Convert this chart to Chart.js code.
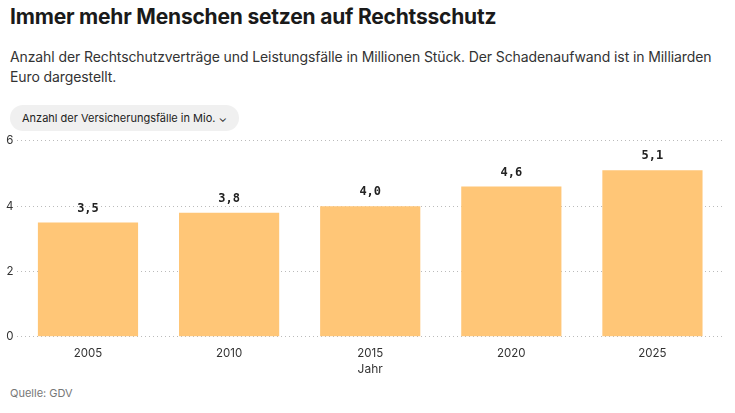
<!DOCTYPE html>
<html><head><meta charset="utf-8">
<script src="https://cdn.jsdelivr.net/npm/chart.js@4"></script>
<style>
body{margin:0;background:#fff;font-family:Inter,"Noto Sans",sans-serif;color:#1a1a1a;width:735px;height:413px;overflow:hidden;position:relative}
h1{position:absolute;left:10px;top:4px;margin:0;font-size:21px;font-weight:700;letter-spacing:-0.2px}
.sub{position:absolute;left:10px;top:47px;width:722px;font-size:14px;line-height:20px;color:#333;letter-spacing:-0.1px}
.pill{position:absolute;left:10px;top:105px;height:26px;padding:0 12px;border-radius:13px;background:#f0f0f0;font-size:11px;line-height:26px;color:#222}
#wrap{position:absolute;left:0;top:130px;width:735px;height:247px}
.src{position:absolute;left:10px;top:386px;font-size:11px;color:#777}
</style></head><body>
<h1>Immer mehr Menschen setzen auf Rechtsschutz</h1>
<div class="sub">Anzahl der Rechtschutzverträge und Leistungsfälle in Millionen Stück. Der Schadenaufwand ist in Milliarden Euro dargestellt.</div>
<div class="pill">Anzahl der Versicherungsfälle in Mio. &#x2304;</div>
<div id="wrap"><canvas id="c"></canvas></div>
<div class="src">Quelle: GDV</div>
<script>
var years = ['2005', '2010', '2015', '2020', '2025'];
var cases = [3.5, 3.8, 4.0, 4.6, 5.1];

var labelPlugin = {
    id: 'barLabels',
    afterDatasetsDraw: function(chart) {
        var ctx = chart.ctx;
        var meta = chart.getDatasetMeta(0);
        ctx.save();
        ctx.font = 'bold 12px "DejaVu Sans Mono", monospace';
        ctx.fillStyle = '#222';
        ctx.textAlign = 'center';
        ctx.textBaseline = 'bottom';
        meta.data.forEach(function(bar, i) {
            ctx.fillText(cases[i].toFixed(1).replace('.', ','), bar.x, bar.y - 8);
        });
        ctx.restore();
    }
};

new Chart(document.getElementById('c'), {
    type: 'bar',
    data: {
        labels: years,
        datasets: [{
            data: cases,
            backgroundColor: '#ffc677',
            categoryPercentage: 0.71,
            barPercentage: 1
        }]
    },
    options: {
        responsive: true,
        maintainAspectRatio: false,
        animation: false,
        layout: { padding: { left: 2, right: 12, top: 8 } },
        plugins: { legend: { display: false }, tooltip: { enabled: false } },
        scales: {
            x: {
                grid: { display: false },
                border: { display: false },
                ticks: { color: '#333', font: { size: 11.5, family: 'Inter' }, padding: 2 },
                title: { display: true, text: 'Jahr', color: '#333', font: { size: 12, family: 'Inter' }, padding: 0 }
            },
            y: {
                min: 0, max: 6,
                ticks: { stepSize: 2, color: '#333', font: { size: 11.5, family: 'Inter' }, padding: 4 },
                grid: { color: '#bbb', drawTicks: false },
                border: { display: false, dash: [1, 3] }
            }
        }
    },
    plugins: [labelPlugin]
});
</script>
</body></html>
